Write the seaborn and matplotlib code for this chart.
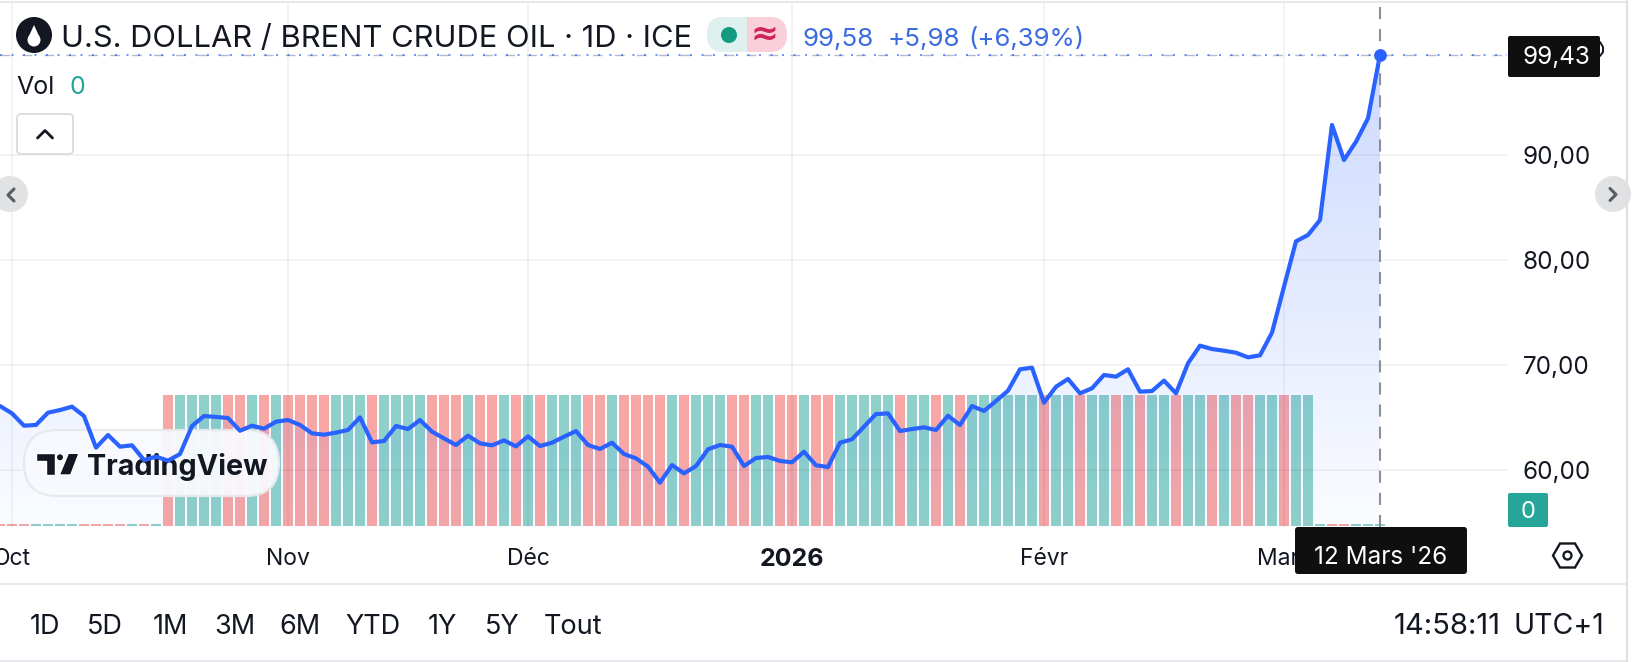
import numpy as np
import pandas as pd
import seaborn as sns
import matplotlib.pyplot as plt
from matplotlib.patches import Circle, FancyBboxPatch, Polygon, Rectangle
from matplotlib.transforms import ScaledTranslation

# values
prices = [66.13, 65.43, 64.26, 64.33, 65.50, 65.75, 66.07, 65.18, 62.17, 63.37,
          62.26, 62.39, 60.99, 61.31, 60.93, 61.56, 64.23, 65.18, 65.09, 64.99,
          63.78, 64.26, 63.97, 64.64, 64.80, 64.33, 63.53, 63.40, 63.60, 63.85,
          65.05, 62.67, 62.80, 64.23, 63.94, 64.80, 63.69, 63.05, 62.42, 63.31,
          62.58, 62.39, 62.86, 62.29, 63.24, 62.32, 62.64, 63.21, 63.75, 62.42,
          62.04, 62.64, 61.56, 61.15, 60.36, 58.83, 60.51, 59.72, 60.42, 62.01,
          62.42, 62.26, 60.42, 61.18, 61.28, 60.90, 60.77, 61.78, 60.49, 60.32,
          62.64, 62.96, 64.17, 65.37, 65.43, 63.75, 63.94, 64.10, 63.85, 65.21,
          64.32, 66.13, 65.66, 66.61, 67.59, 69.63, 69.78, 66.45, 67.97, 68.71,
          67.34, 67.82, 69.09, 68.93, 69.63, 67.50, 67.56, 68.55, 67.34, 70.20,
          71.88, 71.56, 71.40, 71.21, 70.77, 70.96, 73.12, 77.50, 81.82, 82.42,
          83.85, 92.90, 89.56, 91.31, 93.53, 99.58]
directions = list("rrrggggrrrrgrg"
                  "rggggrrgrgrrrrgggrggg"
                  "grrrgrrgrgrgggrrgrrrrgrgggrrggrrgrr"
                  "gggggrggrgrggggggrggrggrgrggrggrgrrggrgg"
                  "grrggg")
volumes = [0.016] * 14 + [1.0] * 96 + [0.016] * 6
tick_pos = [1, 24, 44, 66, 87, 107]
tick_labels = ["Oct", "Nov", "Déc", "2026", "Févr", "Mars"]
price_ticks = [60, 70, 80, 90]
price_labels = ["60,00", "70,00", "80,00", "90,00"]
ranges = ["1D", "5D", "1M", "3M", "6M", "YTD", "1Y", "5Y", "Tout"]
range_x = [45, 105, 170, 235, 300, 373, 442, 502, 573]
last_price = 99.58

BLUE = "#2962FF"
TEXT = "#131722"
W, H = 1634, 662

sessions = list(range(len(prices)))
df = pd.DataFrame({"session": sessions, "price": prices, "volume": volumes, "direction": directions})

sns.set_theme(style="white")
plt.rcParams["font.family"] = ["Inter", "DejaVu Sans"]

fig = plt.figure(figsize=(W / 100, H / 100), dpi=100, facecolor="white")
rect = [0, 1 - 527 / H, 1507 / W, 525 / H]
ax_vol = fig.add_axes(rect, zorder=1)
ax = fig.add_axes(rect, zorder=2)
ax.patch.set_visible(False)
ui = fig.add_axes([0, 0, 1, 1], zorder=5)
ui.set_xlim(0, W)
ui.set_ylim(H, 0)
ui.axis("off")

# volume bars
sns.barplot(data=df, x="session", y="volume", hue="direction", native_scale=True, dodge=False,
            palette={"r": "#F7A7A5", "g": "#8FD1CA"}, saturation=1, width=0.79, legend=False,
            linewidth=0, ax=ax_vol)
ax_vol.set_xlim(0, 1507 / 12)
ax_vol.set_ylim(-0.01, 4.0)
ax_vol.set_xticks([])
ax_vol.set_yticks([])
ax_vol.set_xlabel("")
ax_vol.set_ylabel("")
sns.despine(ax=ax_vol, left=True, bottom=True)

# area under the line
band = ax.fill_between(sessions, prices, 54.61, color="none", zorder=2)
alpha = np.linspace(0.24, 0.02, 256)
grad = np.zeros((256, 1, 4))
grad[..., 0], grad[..., 1], grad[..., 2] = 41 / 255, 98 / 255, 1.0
grad[:, 0, 3] = alpha
im = ax.imshow(grad, extent=(0, 115, 54.61, 99.58), aspect="auto", origin="upper", zorder=2)
im.set_clip_path(band.get_paths()[0], ax.transData)

sns.lineplot(data=df, x="session", y="price", color=BLUE, linewidth=3.0, ax=ax, zorder=3,
             solid_joinstyle="round", errorbar=None)
sns.scatterplot(x=sessions[-1:], y=prices[-1:], color=BLUE, s=85, linewidth=0, ax=ax, zorder=4)

ax.axvline(sessions[-1], color="#8c8f96", lw=1.5, dashes=(5.8, 4.8), zorder=3.5)
ax.axhline(last_price, color="#b8b8cc", lw=1.0, dashes=(7, 8.8), zorder=1.5)
ax.axhline(last_price, color=BLUE, lw=1.2, alpha=0.8, dashes=(1.2, 5.7), zorder=1.6)

ax.set_xlim(0, 1507 / 12)
ax.set_ylim(54.61, 104.61)
ax.set_xticks(tick_pos)
ax.set_xticklabels(tick_labels, fontsize=16.5, color=TEXT)
ax.get_xticklabels()[3].set_fontweight("bold")
ax.get_xticklabels()[3].set_fontsize(18)
ax.yaxis.tick_right()
ax.set_yticks(price_ticks)
ax.set_yticklabels(price_labels, fontsize=17.5, color=TEXT)
for lab in ax.get_yticklabels():
    lab.set_transform(lab.get_transform() + ScaledTranslation(0, 0.015, fig.dpi_scale_trans))
ax.tick_params(axis="x", length=0, pad=15)
ax.tick_params(axis="y", length=0, pad=11.5)
ax.set_xlabel("")
ax.set_ylabel("")
ax.grid(True, color="black", alpha=0.05, lw=1.3)
ax.set_axisbelow(True)
for s in ax.spines.values():
    s.set_visible(False)

# TradingView watermark sits under the line but over the bars
tr = ui.transData
ax.add_patch(FancyBboxPatch((24, 430), 255, 66, boxstyle="round,pad=0,rounding_size=33",
                            fc="#f9fafe", ec="#e7e8ec", lw=1.6, alpha=0.94, transform=tr, zorder=2.5, clip_on=False))
ax.add_patch(Polygon([(36, 453.3), (55, 453.3), (55, 475), (45.7, 475), (45.7, 460.7), (36, 460.7)],
                     fc="#131722", transform=tr, zorder=2.6, clip_on=False))
ax.add_patch(Circle((60, 457.3), 3.7, fc="#131722", transform=tr, zorder=2.6, clip_on=False))
ax.add_patch(Polygon([(68.3, 453.3), (79, 453.3), (70.7, 475), (59.3, 475)],
                     fc="#131722", transform=tr, zorder=2.6, clip_on=False))
ax.text(87, 467, "TradingView", fontsize=20.7, fontweight="bold", color="#131722", va="center", ha="left",
        transform=tr, zorder=2.6, clip_on=False)

# frame of the widget
for y in (2, 584, 661):
    ui.plot([0, 1627], [y, y], color="#e8e9ec", lw=1.5, solid_capstyle="butt")
ui.plot([1627, 1627], [0, 662], color="#e0e0e3", lw=1.5)

# header
ui.add_patch(Circle((34, 35), 18, fc="#131722", ec="none"))
ui.add_patch(Circle((34, 40), 6.5, fc="white", ec="none"))
ui.add_patch(Polygon([(34, 25), (28.5, 37), (39.5, 37)], fc="white", ec="none"))
ui.text(61, 39, "U.S. DOLLAR / BRENT CRUDE OIL · 1D · ICE", fontsize=22.2, color=TEXT, va="center", ha="left")
ui.add_patch(FancyBboxPatch((707, 17), 80, 35, boxstyle="round,pad=0,rounding_size=17", fc="#F9D0DA", ec="none"))
left_pill = FancyBboxPatch((707, 17), 80, 35, boxstyle="round,pad=0,rounding_size=17", fc="#DFF1EE", ec="none")
ui.add_patch(left_pill)
left_pill.set_clip_path(Rectangle((707, 17), 40, 35, transform=ui.transData))
ui.add_patch(Circle((729, 35), 8, fc="#149A80", ec="none"))
ui.text(765, 34, "≈", fontsize=24, color="#D0245F", va="center", ha="center", fontweight="bold", family=["DejaVu Sans"])
ui.text(803, 39, "99,58", fontsize=18.7, color="#3A6BE0", va="center", ha="left")
ui.text(888, 39, "+5,98", fontsize=18.7, color="#3A6BE0", va="center", ha="left")
ui.text(968, 39, "(+6,39%)", fontsize=18.5, color="#3A6BE0", va="center", ha="left")

ui.text(16, 87, "Vol", fontsize=18, color=TEXT, va="center", ha="left")
ui.text(77, 87, "0", fontsize=18, color="#26A69A", va="center", ha="center")
ui.add_patch(FancyBboxPatch((17, 114), 56, 40, boxstyle="round,pad=0,rounding_size=4", fc="white", ec="#dcdde2", lw=1.4))
ui.plot([37.5, 45, 52.5], [138, 130.5, 138], color=TEXT, lw=2)

# side arrows
for cx, pts in ((10, [(14, 189), (8, 195), (14, 201)]), (1613, [(1610, 188.5), (1616, 194.5), (1610, 200.5)])):
    ui.add_patch(Circle((cx, 194), 18, fc="#e1e2e4", ec="none"))
    ui.plot(*zip(*pts), color="#5a5d64", lw=2.2)

# price and date labels
ui.plot([1600, 1603, 1603, 1600], [42, 47, 52, 56], color=TEXT, lw=1.4)
ui.add_patch(FancyBboxPatch((1508, 36), 92, 41, boxstyle="round,pad=0,rounding_size=2", fc="#0f0f0f", ec="none"))
ui.text(1556, 58, "99,43", fontsize=17.5, color="white", va="center", ha="center")
ui.add_patch(FancyBboxPatch((1508, 493), 40, 34, boxstyle="round,pad=0,rounding_size=2", fc="#26A69A", ec="none"))
ui.text(1528, 512, "0", fontsize=17, color="white", va="center", ha="center")
ui.add_patch(FancyBboxPatch((1295, 527), 172, 47, boxstyle="round,pad=0,rounding_size=3", fc="#0f0f0f", ec="none"))
ui.text(1381, 558, "12 Mars '26", fontsize=17.5, color="white", va="center", ha="center")

# settings hexagon
ui.add_patch(Polygon([(1553, 555.5), (1560, 543.5), (1575, 543.5), (1582, 555.5), (1575, 567.5), (1560, 567.5)],
                     fc="white", ec=TEXT, lw=1.7))
ui.add_patch(Circle((1567.5, 555.5), 4, fc="white", ec=TEXT, lw=1.7))

# bottom toolbar
for label, x in zip(ranges, range_x):
    ui.text(x, 627, label, fontsize=19.5, color=TEXT, va="center", ha="center")
ui.text(1447, 626, "14:58:11", fontsize=21, color=TEXT, va="center", ha="center")
ui.text(1604, 626, "UTC+1", fontsize=20.5, color=TEXT, va="center", ha="right")

fig.savefig("out.png", dpi=100)
